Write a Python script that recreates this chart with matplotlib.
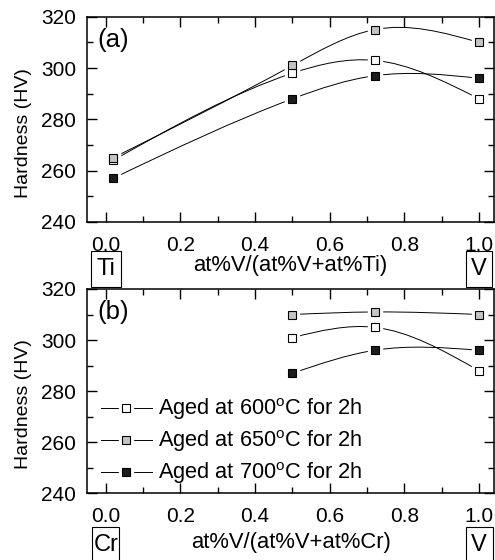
import numpy as np
import matplotlib
matplotlib.use('Agg')
import matplotlib.pyplot as plt
import matplotlib.ticker as ticker
from matplotlib.path import Path
from matplotlib.patches import PathPatch, Rectangle
from matplotlib.lines import Line2D
from matplotlib.legend_handler import HandlerTuple
import matplotlib.transforms as mtransforms

plt.rcParams['font.family'] = ['Liberation Sans', 'DejaVu Sans']
plt.rcParams['mathtext.fontset'] = 'custom'
plt.rcParams['mathtext.rm'] = 'Liberation Sans'

# (a) V-Ti
xa = [0.02, 0.5, 0.72, 1.0]
a600 = [264, 298, 303, 288]
a650 = [265, 301, 315, 310]
a700 = [257, 288, 297, 296]

# (b) V-Cr
xb = [0.5, 0.72, 1.0]
b600 = [301, 305, 288]
b650 = [310, 311, 310]
b700 = [287, 296, 296]

labels = [r'Aged at 600$^{\mathrm{o}}$C for 2h',
          r'Aged at 650$^{\mathrm{o}}$C for 2h',
          r'Aged at 700$^{\mathrm{o}}$C for 2h']
fills = ['white', '#c4c4c4', '#1c1c1c']


def spline_path(x, y):
    # natural cubic spline drawn as bezier segments (origin "spline" look)
    x = np.asarray(x, float)
    y = np.asarray(y, float)
    n = len(x)
    h = np.diff(x)
    d = np.diff(y) / h
    A = np.zeros((n, n))
    b = np.zeros(n)
    A[0, 0], A[0, 1], b[0] = 2, 1, 3 * d[0]
    A[-1, -2], A[-1, -1], b[-1] = 1, 2, 3 * d[-1]
    for i in range(1, n - 1):
        A[i, i - 1] = h[i]
        A[i, i] = 2 * (h[i - 1] + h[i])
        A[i, i + 1] = h[i - 1]
        b[i] = 3 * (h[i] * d[i - 1] + h[i - 1] * d[i])
    m = np.linalg.solve(A, b)
    verts = [(x[0], y[0])]
    codes = [Path.MOVETO]
    for i in range(n - 1):
        verts += [(x[i] + h[i] / 3, y[i] + m[i] * h[i] / 3),
                  (x[i + 1] - h[i] / 3, y[i + 1] - m[i + 1] * h[i] / 3),
                  (x[i + 1], y[i + 1])]
        codes += [Path.CURVE4] * 3
    return Path(verts, codes)


def draw(ax, x, y, fc):
    ax.add_patch(PathPatch(spline_path(x, y), fc='none', ec='black', lw=0.7, zorder=2))
    ax.plot(x, y, ls='none', marker='s', ms=10, mfc='white', mec='white', zorder=3)
    ax.plot(x, y, ls='none', marker='s', ms=6, mfc=fc, mec='black', mew=0.8, zorder=4)


def style(ax, xlabel, xl_y, boxes, box_y, panel):
    ax.set_xlim(-0.05, 1.04)
    ax.set_ylim(240, 320)
    ax.xaxis.set_major_locator(ticker.MultipleLocator(0.2))
    ax.xaxis.set_minor_locator(ticker.MultipleLocator(0.1))
    ax.yaxis.set_major_locator(ticker.MultipleLocator(20))
    ax.yaxis.set_minor_locator(ticker.MultipleLocator(10))
    ax.xaxis.set_major_formatter(ticker.FormatStrFormatter('%.1f'))
    ax.tick_params(which='both', direction='in', top=True, right=True, width=1.0)
    ax.tick_params(which='major', length=7, labelsize=15)
    ax.tick_params(which='minor', length=4)
    ax.tick_params(axis='x', pad=10)
    ax.tick_params(axis='y', pad=8)
    for s in ax.spines.values():
        s.set_linewidth(1.1)
    ax.set_ylabel('Hardness (HV)', fontsize=14)
    ax.yaxis.set_label_coords(-0.135, 0.435)
    ax.set_xlabel(xlabel, fontsize=15.8)
    ax.xaxis.set_label_coords(0.5, xl_y)
    tr = mtransforms.blended_transform_factory(ax.transData, ax.transAxes)
    for xv, w, el in boxes:
        ax.add_patch(Rectangle((xv - w / 2, box_y - 0.088), w, 0.176, transform=tr,
                               fc='white', ec='black', lw=0.8, clip_on=False))
        ax.text(xv, box_y, el, transform=tr, ha='center', va='center', fontsize=17,
                clip_on=False)
    ax.text(0.025, 0.885, panel, transform=ax.transAxes, ha='left', va='center', fontsize=18.5)


fig = plt.figure(figsize=(4.95, 5.6), dpi=100)
ax1 = fig.add_axes([0.176, 0.604, 0.822, 0.366])
ax2 = fig.add_axes([0.176, 0.119, 0.822, 0.365])

for ys, fc in zip([a700, a600, a650], [fills[2], fills[0], fills[1]]):
    draw(ax1, xa, ys, fc)
for ys, fc in zip([b700, b600, b650], [fills[2], fills[0], fills[1]]):
    draw(ax2, xb, ys, fc)

style(ax1, 'at%V/(at%V+at%Ti)', -0.162, [(0.0, 0.081, 'Ti'), (1.0, 0.07, 'V')], -0.231, '(a)')
style(ax2, 'at%V/(at%V+at%Cr)', -0.19, [(0.0, 0.072, 'Cr'), (1.0, 0.072, 'V')], -0.253, '(b)')

handles = []
for fc in fills:
    ln = Line2D([], [], color='black', lw=0.7)
    halo = Line2D([], [], ls='none', marker='s', ms=10, mfc='white', mec='white')
    mk = Line2D([], [], ls='none', marker='s', ms=6, mfc=fc, mec='black', mew=0.8)
    handles.append((ln, halo, mk))
ax2.legend(handles, labels, handler_map={tuple: HandlerTuple(ndivide=1)},
           loc='lower left', bbox_to_anchor=(0.035, 0.035), frameon=False,
           fontsize=15.7, handlelength=2.3, handletextpad=0.28, labelspacing=0.28,
           borderpad=0, borderaxespad=0)

fig.savefig('out.png', dpi=100)
